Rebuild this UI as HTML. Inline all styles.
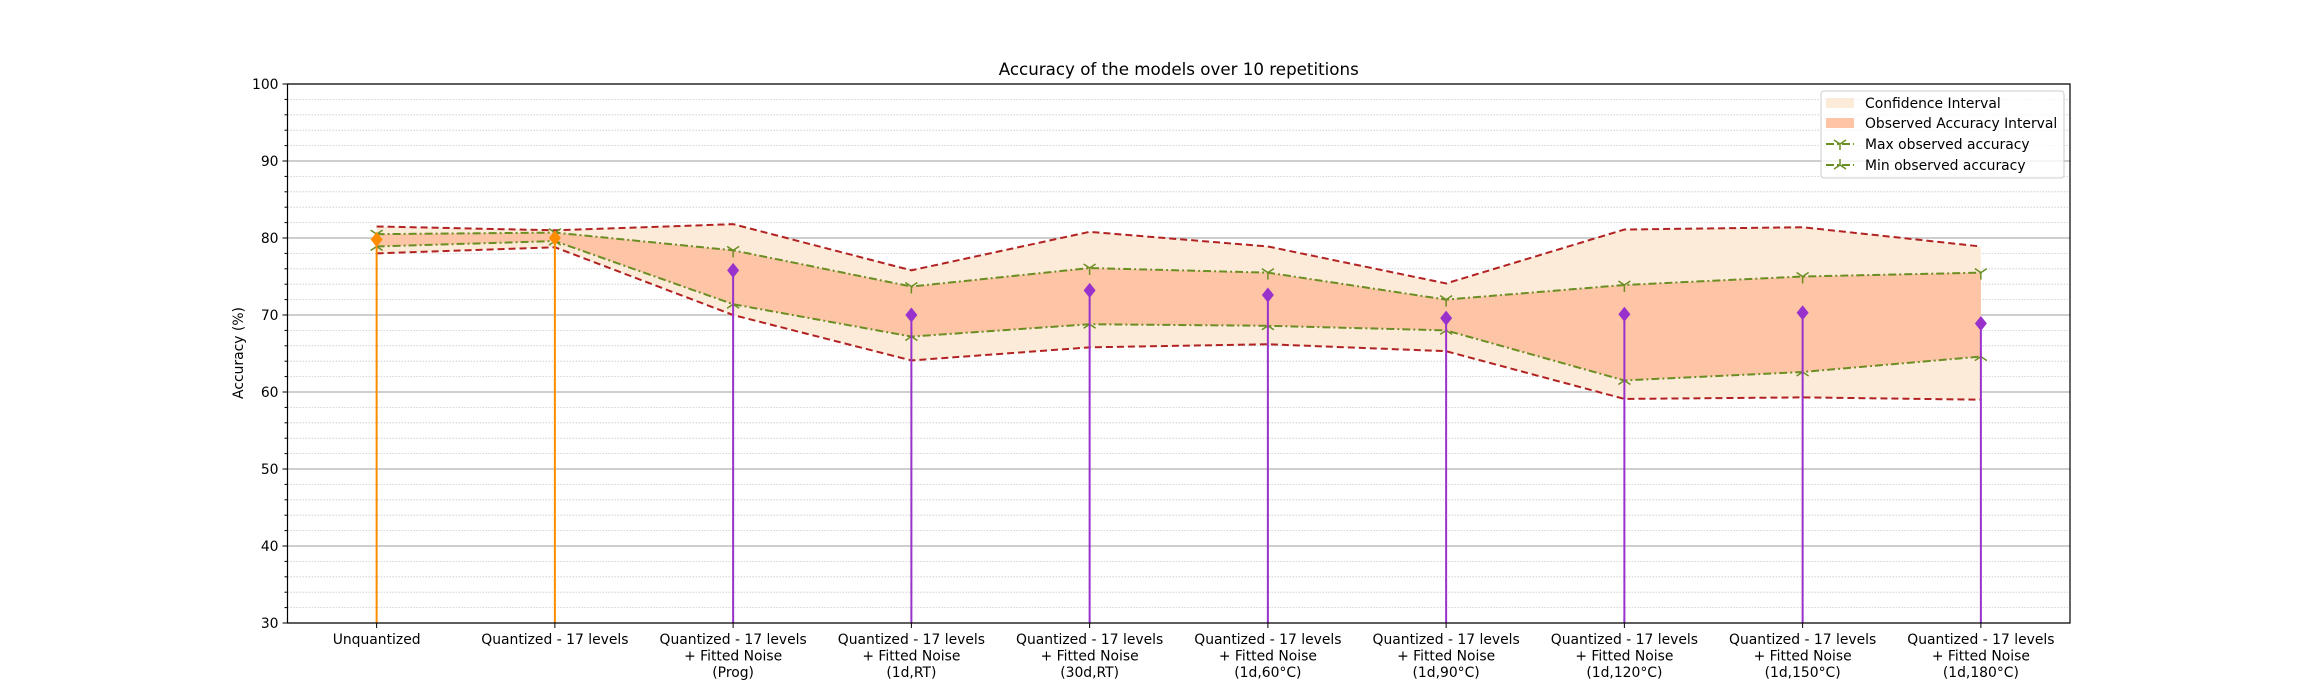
<!DOCTYPE html>
<html><head><meta charset="utf-8"><style>
body{margin:0;background:#fff}
svg{display:block;font-family:"DejaVu Sans","Liberation Sans",sans-serif}
</style></head><body>
<svg id="chart" width="2300" height="700" xmlns="http://www.w3.org/2000/svg">
<rect width="2300" height="700" fill="#fff"/>
<g id="grid"></g><g id="series"></g><g id="axes"></g>
<text x="1178.75" y="75" text-anchor="middle" font-size="16.7" fill="#000">Accuracy of the models over 10 repetitions</text>
<text transform="translate(243,353) rotate(-90)" text-anchor="middle" font-size="13.9" fill="#000">Accuracy (%)</text>
<g>
<rect x="1821" y="91" width="243" height="87" rx="3" fill="#fff" fill-opacity="0.8" stroke="#ccc"/>
<rect x="1826" y="98" width="28" height="10" fill="#fdebd9"/>
<text x="1865" y="108" font-size="13.9">Confidence Interval</text>
<rect x="1826" y="118" width="28" height="10" fill="#fdc4a6"/>
<text x="1865" y="128" font-size="13.9">Observed Accuracy Interval</text>
<line x1="1826" y1="144" x2="1854" y2="144" stroke="#6b8e23" stroke-width="2" stroke-dasharray="8,3,2,3"/>
<path d="M1840 144 v6 M1840 144 l-6 -4 M1840 144 l6 -4" stroke="#6b8e23" stroke-width="1.5" fill="none"/>
<text x="1865" y="149" font-size="13.9">Max observed accuracy</text>
<line x1="1826" y1="165" x2="1854" y2="165" stroke="#6b8e23" stroke-width="2" stroke-dasharray="8,3,2,3"/>
<path d="M1840 165 v-6 M1840 165 l-6 4 M1840 165 l6 4" stroke="#6b8e23" stroke-width="1.5" fill="none"/>
<text x="1865" y="170" font-size="13.9">Min observed accuracy</text>
</g>
</svg>
<script>
const categories=[["Unquantized"],["Quantized - 17 levels"],["Quantized - 17 levels","+ Fitted Noise","(Prog)"],["Quantized - 17 levels","+ Fitted Noise","(1d,RT)"],["Quantized - 17 levels","+ Fitted Noise","(30d,RT)"],["Quantized - 17 levels","+ Fitted Noise","(1d,60°C)"],["Quantized - 17 levels","+ Fitted Noise","(1d,90°C)"],["Quantized - 17 levels","+ Fitted Noise","(1d,120°C)"],["Quantized - 17 levels","+ Fitted Noise","(1d,150°C)"],["Quantized - 17 levels","+ Fitted Noise","(1d,180°C)"]];
const ciUpper=[81.5,81.0,81.8,75.8,80.8,78.9,74.1,81.1,81.4,78.9];
const ciLower=[78.0,78.8,70.0,64.1,65.8,66.2,65.3,59.1,59.3,59.0];
const maxObs=[80.5,80.7,78.4,73.7,76.1,75.5,72.0,73.9,75.0,75.5];
const minObs=[78.9,79.6,71.4,67.2,68.8,68.6,68.0,61.5,62.6,64.6];
const means=[79.8,80.0,75.8,70.0,73.2,72.6,69.6,70.1,70.3,68.9];
const yTicks=[30,40,50,60,70,80,90,100];
const NS="http://www.w3.org/2000/svg";
const L=287.5,R=2070,T=84,B=623,YMIN=30,YMAX=100;
const xs=i=>L+(i+0.5)*(R-L)/categories.length;
const ys=v=>B-(v-YMIN)/(YMAX-YMIN)*(B-T);
function mk(tag,attrs,parent){const e=document.createElementNS(NS,tag);for(const k in attrs)e.setAttribute(k,attrs[k]);parent.appendChild(e);return e;}
const grid=document.getElementById('grid'),ser=document.getElementById('series'),ax=document.getElementById('axes');
for(let v=YMIN;v<=YMAX;v+=2){
 const major=v%10===0;
 const g=mk('line',{x1:L,x2:R,y1:ys(v),y2:ys(v),stroke:major?'#b0b0b0':'#c8c8c8','stroke-width':major?1.2:0.8,'stroke-dasharray':major?'none':'1.5,1.5'},grid);
 
 
 const t=mk('line',{x1:L,x2:L-(major?5:3),y1:ys(v),y2:ys(v),stroke:'#000','stroke-width':1},ax);
 
 
}
yTicks.forEach(v=>{const t=mk('text',{x:L-9,y:ys(v)+5,'text-anchor':'end','font-size':13.9},ax);t.textContent=v;
 
 });
function band(up,lo,fill,name){
 let d='M'+up.map((v,i)=>xs(i)+','+ys(v)).join(' L');
 d+=' L'+lo.map((v,i)=>xs(i)+','+ys(v)).reverse().join(' L')+'Z';
 const p=mk('path',{d:d,fill:fill},ser);
 
 
}
band(ciUpper,ciLower,'#fdebd9','confidence-band');
band(maxObs,minObs,'#fdc4a6','observed-band');
function line(arr,attrs,name){const p=mk('polyline',Object.assign({points:arr.map((v,i)=>xs(i)+','+ys(v)).join(' '),fill:'none'},attrs),ser);
 
 }
line(ciUpper,{stroke:'#b22222','stroke-width':2,'stroke-dasharray':'7,4'},'ci-upper-line');
line(ciLower,{stroke:'#b22222','stroke-width':2,'stroke-dasharray':'7,4'},'ci-lower-line');
line(maxObs,{stroke:'#6b8e23','stroke-width':2,'stroke-dasharray':'8,3,2,3'},'max-observed-line');
line(minObs,{stroke:'#6b8e23','stroke-width':2,'stroke-dasharray':'8,3,2,3'},'min-observed-line');
maxObs.forEach((v,i)=>{const x=xs(i),y=ys(v);const m=mk('path',{d:`M${x} ${y} v7 M${x} ${y} l-6 -4 M${x} ${y} l6 -4`,stroke:'#6b8e23','stroke-width':1.5,fill:'none'},ser);
 
 });
minObs.forEach((v,i)=>{const x=xs(i),y=ys(v);const m=mk('path',{d:`M${x} ${y} v-7 M${x} ${y} l-6 4 M${x} ${y} l6 4`,stroke:'#6b8e23','stroke-width':1.5,fill:'none'},ser);
 
 });
means.forEach((v,i)=>{const x=xs(i),y=ys(v),c=i<2?'#ff8c00':'#9932cc';
 const s=mk('line',{x1:x,x2:x,y1:B,y2:y,stroke:c,'stroke-width':2},ser);
 
 
 const d=mk('path',{d:`M${x} ${y-7.5} L${x+6} ${y} L${x} ${y+7.5} L${x-6} ${y}Z`,fill:c},ser);
 
 });
const frame=mk('rect',{x:L,y:T,width:R-L,height:B-T,fill:'none',stroke:'#000','stroke-width':1.2},ax);


categories.forEach((lines,i)=>{const x=xs(i);
 const t=mk('line',{x1:x,x2:x,y1:B,y2:B+5,stroke:'#000'},ax);
 
 
 const tx=mk('text',{x:x,y:B+21,'text-anchor':'middle','font-size':13.9},ax);
 
 
 lines.forEach((s,k)=>{const ts=mk('tspan',{x:x,dy:k?16.5:0},tx);ts.textContent=s;});
});
</script>
</body></html>
